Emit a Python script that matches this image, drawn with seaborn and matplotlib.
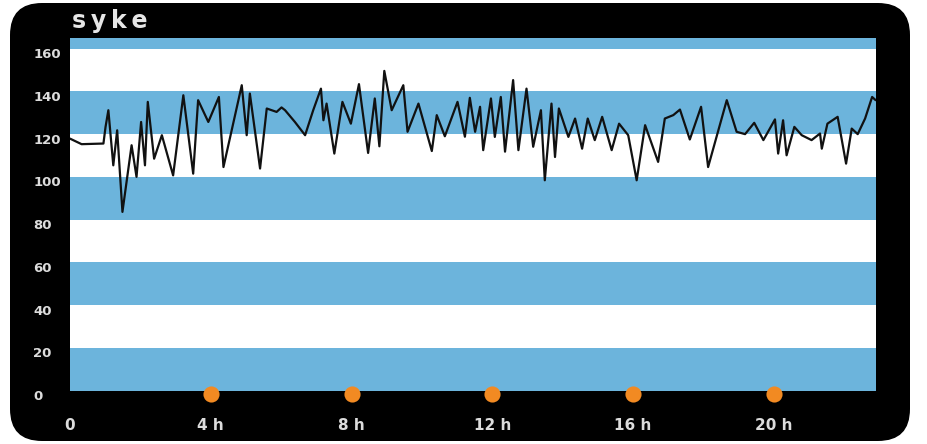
import numpy as np
import pandas as pd
import matplotlib
matplotlib.use("Agg")
import matplotlib.pyplot as plt
from matplotlib.patches import FancyBboxPatch
from matplotlib.transforms import IdentityTransform, ScaledTranslation
import seaborn as sns

# heart rate ("syke") over a day
hours = [0.00, 0.33, 0.95, 1.01, 1.09, 1.23, 1.34, 1.49, 1.75, 1.89, 2.02, 2.13,
         2.21, 2.39, 2.61, 2.93, 3.22, 3.50, 3.64, 3.93, 4.23, 4.36, 4.88, 5.02,
         5.11, 5.40, 5.59, 5.73, 5.87, 6.01, 6.11, 6.39, 6.68, 6.91, 7.13, 7.20,
         7.29, 7.51, 7.74, 7.98, 8.21, 8.47, 8.66, 8.79, 8.93, 9.14, 9.47, 9.59,
         9.90, 10.28, 10.42, 10.65, 11.01, 11.22, 11.36, 11.51, 11.65, 11.74,
         11.96, 12.07, 12.24, 12.36, 12.59, 12.74, 12.97, 13.16, 13.38, 13.49,
         13.68, 13.78, 13.89, 14.16, 14.35, 14.55, 14.71, 14.91, 15.12, 15.39,
         15.60, 15.86, 16.10, 16.34, 16.71, 16.90, 17.14, 17.33, 17.61, 17.93,
         18.13, 18.66, 18.94, 19.18, 19.44, 19.70, 20.03, 20.12, 20.26, 20.36,
         20.58, 20.79, 21.07, 21.31, 21.36, 21.52, 21.81, 22.05, 22.21, 22.38,
         22.59, 22.79, 22.89]
rate = [117.9, 115.3, 115.6, 123.4, 131.2, 105.4, 121.8, 83.6, 114.8, 100.0, 125.7, 105.4,
        135.1, 108.5, 119.5, 100.7, 138.2, 101.5, 135.9, 125.7, 137.4, 104.6, 142.9, 119.5,
        139.0, 103.9, 132.0, 131.2, 130.4, 132.5, 131.2, 125.7, 119.5, 131.2, 141.3, 126.5,
        134.3, 110.9, 135.1, 124.9, 143.4, 111.2, 136.7, 114.3, 149.6, 131.2, 142.9, 121.1,
        134.3, 112.1, 128.9, 119.0, 135.1, 118.8, 137.0, 121.1, 132.8, 112.5,
        136.7, 118.7, 137.4, 111.8, 145.3, 112.5, 141.3, 114.1, 131.2, 98.4,
        134.3, 109.3, 132.0, 118.7, 127.3, 113.2, 127.3, 117.2, 128.1, 112.5,
        124.9, 119.5, 98.4, 124.2, 107.0, 127.3, 128.9, 131.5, 117.5, 132.8,
        104.6, 135.9, 121.1, 120.0, 125.3, 117.2, 126.9, 110.9, 126.5, 110.1,
        123.4, 119.5, 117.2, 120.3, 113.2, 124.9, 128.1, 106.2, 122.6, 120.0,
        127.3, 137.4, 135.9]

y_ticks = [0, 20, 40, 60, 80, 100, 120, 140, 160]
x_ticks = [0, 4, 8, 12, 16, 20]
x_labels = ["0", "4 h", "8 h", "12 h", "16 h", "20 h"]
dot_hours = [4, 8, 12, 16, 20]
bands = [(0, 20), (40, 60), (80, 100), (120, 140), (160, 170)]

BLUE = "#6cb4dc"
ORANGE = "#f28a22"
LABEL = "#dcdcdc"

sns.set_style("white")
plt.rcParams["font.family"] = ["DejaVu Sans"]

fig = plt.figure(figsize=(9.27, 4.44), dpi=100, facecolor="white")

# black rounded frame, in pixels, behind the axes
frame = FancyBboxPatch((10, 3), 900, 438, boxstyle="round,pad=0,rounding_size=32",
                       transform=IdentityTransform(), facecolor="black",
                       edgecolor="none", zorder=-5)
fig.patches.append(frame)

ax = fig.add_axes([70 / 927, 53.5 / 444, 806 / 927, 352.5 / 444])
ax.set_facecolor("white")

for lo, hi in bands:
    ax.axhspan(lo, hi, color=BLUE, lw=0, zorder=0)

df = pd.DataFrame({"hour": hours, "bpm": rate})
sns.lineplot(data=df, x="hour", y="bpm", ax=ax, color="#111111", lw=1.6,
             sort=False, estimator=None, zorder=3,
             solid_joinstyle="round", solid_capstyle="round")

ax.scatter(dot_hours, [-0.01] * len(dot_hours), s=135, color=ORANGE,
           transform=ax.get_xaxis_transform(), clip_on=False, zorder=5, lw=0)

ax.set_xlim(0, 22.9)
ax.set_ylim(1, 165)
ax.set_xticks(x_ticks, x_labels)
ax.set_yticks(y_ticks)
ax.set_xlabel("")
ax.set_ylabel("")
for s in ax.spines.values():
    s.set_visible(False)

ax.tick_params(axis="x", length=0, pad=20, labelsize=11, labelcolor=LABEL)
ax.tick_params(axis="y", length=0, pad=26.5, labelsize=9.5, labelcolor=LABEL)
for lbl in ax.get_xticklabels():
    lbl.set_fontweight("bold")
shift = ScaledTranslation(0, -0.045, fig.dpi_scale_trans)
for lbl in ax.get_yticklabels():
    lbl.set_fontweight("bold")
    lbl.set_horizontalalignment("left")
    lbl.set_transform(lbl.get_transform() + shift)

fig.text(72 / 927, 1 - 21 / 444, "s\u2009y\u2009k\u2009e", color="#e6e6e6",
         fontsize=17, fontweight="bold", ha="left", va="center")

fig.savefig("out.png", dpi=100, facecolor="white")
